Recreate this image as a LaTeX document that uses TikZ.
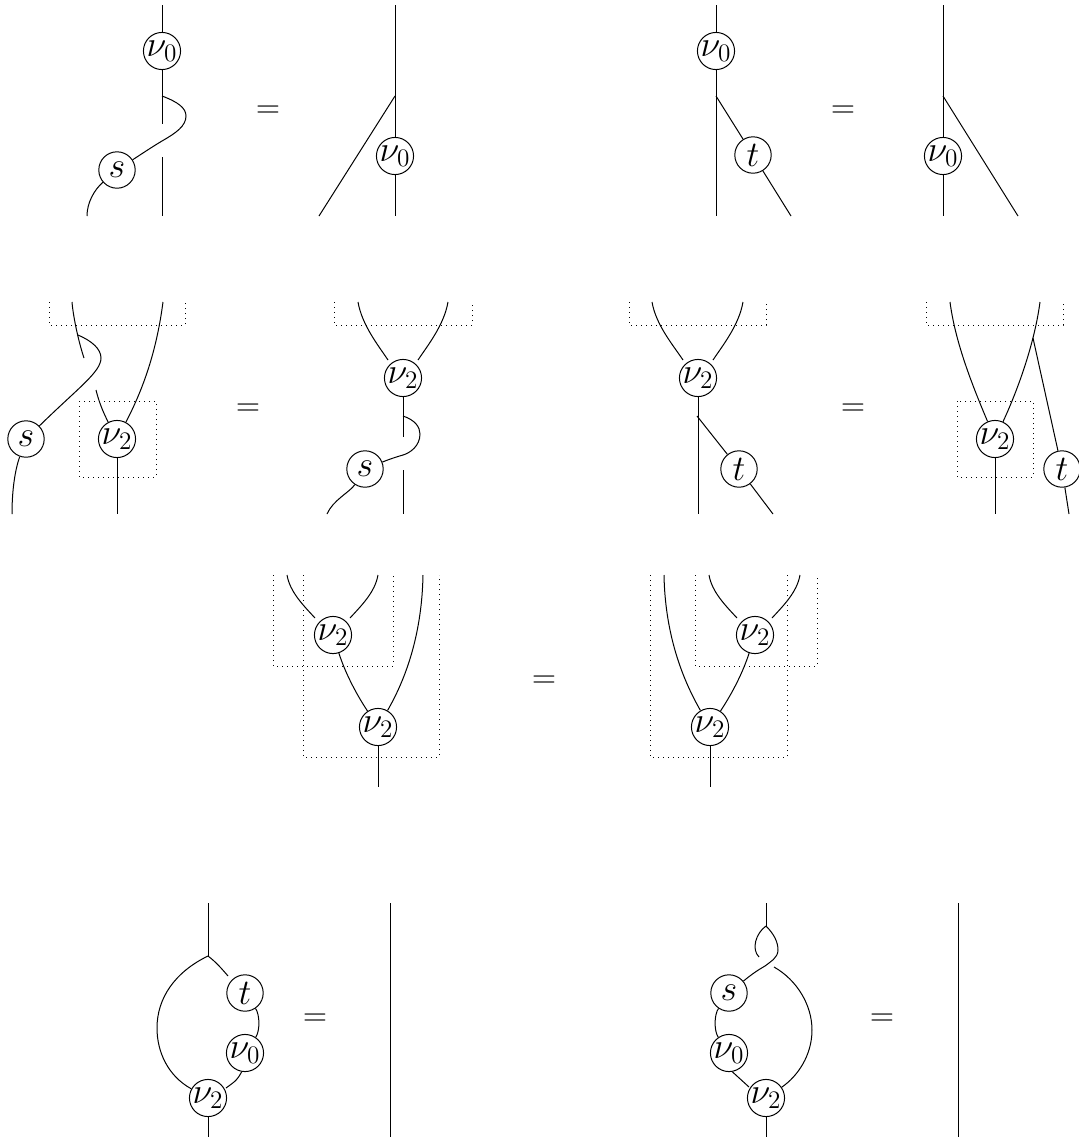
\documentclass[tikz,border=0pt]{standalone}
\usepackage{fix-cm}
\usepackage{amsmath,amssymb}
\usepackage{tikz}
\begin{document}
\begin{tikzpicture}[
    x=0.5pt,y=-0.5pt,line width=0.5pt,
    vertex/.style={circle,draw,inner sep=0pt,minimum size=18.2pt,font=\fontsize{18}{20}\selectfont},
    eqsign/.style={inner sep=0pt,yshift=-1.5pt,font=\fontsize{16}{18}\selectfont},
    dotbox/.style={line width=0.45pt,dash pattern=on 0.5pt off 2pt}
  ]
  \useasboundingbox (0,0) rectangle (1078,1142);

  \node[vertex] (va) at (162,51) {$\nu_0$};
  \node[vertex] (sa) at (117,170) {$s$};
  \node[eqsign] (eqa) at (268,109) {$=$};
  \coordinate (at) at (162,5);
  \coordinate (aj) at (162,96);
  \coordinate (au) at (162,124);
  \coordinate (am) at (162,157);
  \coordinate (ab) at (162,216);
  \coordinate (ae) at (87,216);
  \draw (at) -- (va) -- (au);
  \draw (am) -- (ab);
  \draw (aj) .. controls (178,102) and (186,108) .. (186,116) .. controls (186,126) and (176,133) .. (162,141) .. controls (152,147) and (143,153) .. (sa);
  \draw (sa) .. controls (94,190) and (87,203) .. (ae);

  \node[vertex] (vb) at (395,156) {$\nu_0$};
  \coordinate (bt) at (395,5);
  \coordinate (bj) at (395,96);
  \coordinate (bb) at (395,216);
  \coordinate (be) at (319,216);
  \draw (bt) -- (vb) -- (bb);
  \draw (bj) -- (be);

  \node[vertex] (vc) at (716,51) {$\nu_0$};
  \node[vertex] (tc) at (753,155) {$t$};
  \node[eqsign] (eqc) at (843,109) {$=$};
  \coordinate (ct) at (716,5);
  \coordinate (cj) at (716,96);
  \coordinate (cb) at (716,216);
  \coordinate (ce) at (791,216);
  \draw (ct) -- (vc) -- (cb);
  \draw (cj) -- (tc) -- (ce);

  \node[vertex] (vd) at (943,156) {$\nu_0$};
  \coordinate (dt) at (943,5);
  \coordinate (dj) at (943,96);
  \coordinate (db) at (943,216);
  \coordinate (de) at (1018,216);
  \draw (dt) -- (vd) -- (db);
  \draw (dj) -- (de);

  \node[vertex] (se) at (26,439) {$s$};
  \node[vertex] (ve) at (117,439) {$\nu_2$};
  \node[eqsign] (eqe) at (248,407) {$=$};
  \coordinate (ea) at (72,302);
  \coordinate (ej) at (78,335);
  \coordinate (ec) at (84,358);
  \coordinate (ef) at (96,390);
  \coordinate (eg) at (163,302);
  \coordinate (eb) at (117,514);
  \coordinate (eh) at (12,514);
  \draw[dotbox] (49,302) -- (49,325) -- (185,325) -- (185,302);
  \draw[dotbox] (79,401) rectangle (156,477);
  \draw (ea) .. controls (73,315) and (78,340) .. (ec);
  \draw (ej) .. controls (92,341) and (101,349) .. (101,358) .. controls (101,372) and (78,388) .. (se);
  \draw (se) .. controls (15,470) and (12,490) .. (eh);
  \draw (ef) .. controls (99,402) and (103,412) .. (ve);
  \draw (eg) .. controls (158,340) and (148,380) .. (ve);
  \draw (ve) -- (eb);

  \node[vertex] (vf) at (403,378) {$\nu_2$};
  \node[vertex] (sf) at (365,469) {$s$};
  \coordinate (fa) at (358,302);
  \coordinate (fc) at (388,360);
  \coordinate (fd) at (448,302);
  \coordinate (fg) at (418,360);
  \coordinate (fu) at (403,437);
  \coordinate (fj) at (403,416);
  \coordinate (fm) at (403,470);
  \coordinate (fb) at (403,514);
  \coordinate (fe) at (327,514);
  \draw[dotbox] (334,302) -- (334,325) -- (472,325) -- (472,302);
  \draw (fa) .. controls (362,325) and (378,345) .. (fc);
  \draw (fd) .. controls (444,325) and (428,345) .. (fg);
  \draw (vf) -- (fu);
  \draw (fm) -- (fb);
  \draw (fj) .. controls (415,420) and (420,427) .. (420,434) .. controls (420,446) and (410,453) .. (403,455) .. controls (396,457) and (390,459) .. (sf);
  \draw (sf) .. controls (350,492) and (333,500) .. (fe);

  \node[vertex] (vg) at (698,378) {$\nu_2$};
  \node[vertex] (tg) at (739,469) {$t$};
  \node[eqsign] (eqg) at (853,407) {$=$};
  \coordinate (ga) at (652,302);
  \coordinate (gc) at (683,360);
  \coordinate (gd) at (743,302);
  \coordinate (gf) at (713,360);
  \coordinate (gj) at (697,416);
  \coordinate (gb) at (698,514);
  \coordinate (ge) at (773,514);
  \draw[dotbox] (629,302) -- (629,325) -- (766,325) -- (766,302);
  \draw (ga) .. controls (656,325) and (673,345) .. (gc);
  \draw (gd) .. controls (739,325) and (723,345) .. (gf);
  \draw (vg) -- (gb);
  \draw (gj) -- (tg) -- (ge);

  \node[vertex] (vh) at (995,439) {$\nu_2$};
  \node[vertex] (th) at (1062,469) {$t$};
  \coordinate (ha) at (950,302);
  \coordinate (hd) at (1040,302);
  \coordinate (hj) at (1033,338);
  \coordinate (hb) at (995,514);
  \coordinate (he) at (1069,514);
  \draw[dotbox] (926,302) -- (926,325) -- (1063,325) -- (1063,302);
  \draw[dotbox] (957,401) rectangle (1033,477);
  \draw (ha) .. controls (955,340) and (970,380) .. (vh);
  \draw (hd) .. controls (1035,340) and (1020,385) .. (vh);
  \draw (vh) -- (hb);
  \draw (hj) -- (th) -- (he);

  \node[vertex] (vi) at (333,635) {$\nu_2$};
  \node[vertex] (wi) at (378,727) {$\nu_2$};
  \node[eqsign] (eqi) at (544,679) {$=$};
  \coordinate (ia) at (287,575);
  \coordinate (ic) at (315,618);
  \coordinate (id) at (378,575);
  \coordinate (if) at (350,618);
  \coordinate (ig) at (423,575);
  \coordinate (ib) at (378,787);
  \draw[dotbox] (273,575) -- (273,666) -- (393,666) -- (393,575);
  \draw[dotbox] (303,575) -- (303,757) -- (439,757) -- (439,575);
  \draw (ia) .. controls (290,592) and (303,605) .. (ic);
  \draw (id) .. controls (375,592) and (362,605) .. (if);
  \draw (vi) .. controls (345,672) and (355,692) .. (wi);
  \draw (ig) .. controls (422,630) and (408,675) .. (wi);
  \draw (wi) -- (ib);

  \node[vertex] (vj) at (755,635) {$\nu_2$};
  \node[vertex] (wj) at (710,727) {$\nu_2$};
  \coordinate (ja) at (709,575);
  \coordinate (jc) at (737,618);
  \coordinate (jd) at (800,575);
  \coordinate (jf) at (772,618);
  \coordinate (jg) at (664,575);
  \coordinate (jb) at (710,787);
  \draw[dotbox] (650,575) -- (650,757) -- (787,757) -- (787,575);
  \draw[dotbox] (695,575) -- (695,666) -- (817,666) -- (817,575);
  \draw (ja) .. controls (712,592) and (725,605) .. (jc);
  \draw (jd) .. controls (797,592) and (784,605) .. (jf);
  \draw (vj) .. controls (743,672) and (733,692) .. (wj);
  \draw (jg) .. controls (665,630) and (680,675) .. (wj);
  \draw (wj) -- (jb);

  \node[vertex] (tk) at (245,993) {$t$};
  \node[vertex] (uk) at (245,1053) {$\nu_0$};
  \node[vertex] (vk) at (208,1098) {$\nu_2$};
  \node[eqsign] (eqk) at (315,1017) {$=$};
  \coordinate (kt) at (208,903);
  \coordinate (kj) at (208,956);
  \coordinate (kc) at (228,976);
  \coordinate (kq) at (226,1088);
  \coordinate (kb) at (208,1137);
  \coordinate (kl) at (390,903);
  \coordinate (km) at (390,1137);
  \draw (kt) -- (kj);
  \draw (kj) .. controls (175,972) and (157,998) .. (157,1028) .. controls (157,1052) and (168,1076) .. (vk);
  \draw (kj) .. controls (216,962) and (222,969) .. (kc);
  \draw (tk) .. controls (260,1015) and (260,1031) .. (uk);
  \draw (uk.260) .. controls (237,1080) .. (kq);
  \draw (vk) -- (kb);
  \draw (kl) -- (km);

  \node[vertex] (sl) at (729,993) {$s$};
  \node[vertex] (ul) at (729,1053) {$\nu_0$};
  \node[vertex] (vl) at (766,1098) {$\nu_2$};
  \node[eqsign] (eql) at (882,1017) {$=$};
  \coordinate (lt) at (766,903);
  \coordinate (lj) at (766,926);
  \coordinate (lc) at (759,957);
  \coordinate (ld) at (774,967);
  \coordinate (lq) at (749,1087);
  \coordinate (lb) at (766,1137);
  \coordinate (ll) at (958,903);
  \coordinate (lm) at (958,1137);
  \draw (lt) -- (lj);
  \draw (lj) .. controls (756,933) and (751,949) .. (lc);
  \draw (lj) .. controls (774,934) and (778,942) .. (778,950) .. controls (778,958) and (770,962) .. (765,966) .. controls (758,970) and (752,974) .. (sl);
  \draw (ld) .. controls (797,980) and (812,1005) .. (812,1030) .. controls (812,1055) and (798,1076) .. (vl);
  \draw (sl) .. controls (714,1015) and (714,1031) .. (ul);
  \draw (ul.280) -- (lq);
  \draw (vl) -- (lb);
  \draw (ll) -- (lm);
\end{tikzpicture}
\end{document}
